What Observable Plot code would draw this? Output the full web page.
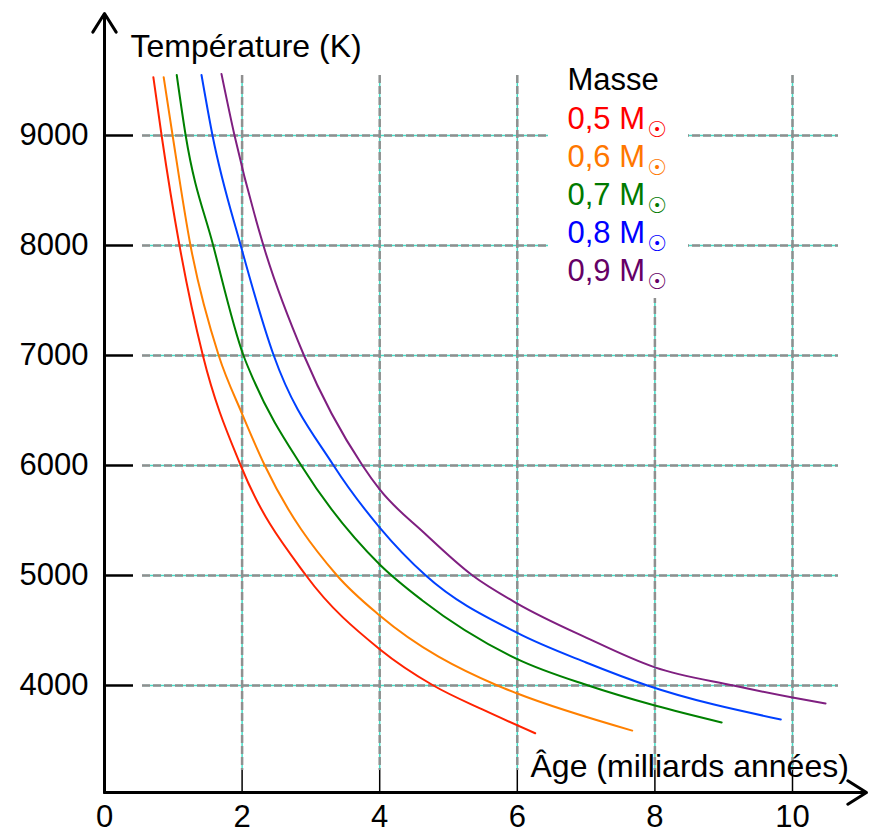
<!DOCTYPE html>
<html><head><meta charset="utf-8">
<script src="https://cdn.jsdelivr.net/npm/d3@7"></script>
<script src="https://cdn.jsdelivr.net/npm/@observablehq/plot@0.6"></script>
<style>body{margin:0;background:#fff}</style>
</head><body><div id="chart"></div>
<script>
// ---- data ----
const masses = ["0,5", "0,6", "0,7", "0,8", "0,9"];
const lineColors = ["#ff2200", "#ff8000", "#008000", "#0040ff", "#7f1f80"];
const textColors = ["#ff0000", "#ff7700", "#007a00", "#0000ff", "#660066"];

const age05 = [0.71, 0.83, 1.09, 1.43, 1.98, 2.93, 4.0, 4.78, 5.5, 6.26];
const temp05 = [9530, 9000, 8000, 7000, 6000, 5000, 4330, 4000, 3780, 3566];
const age06 = [0.86, 0.99, 1.25, 1.66, 2.0, 2.33, 3.38, 4.0, 5.71, 6.0, 7.67];
const temp06 = [9530, 9000, 8000, 7000, 6470, 6000, 5000, 4636, 4000, 3927, 3590];
const age07 = [1.05, 1.18, 1.58, 2.02, 2.17, 2.86, 4.0, 4.62, 6.0, 7.03, 8.0, 8.97];
const temp07 = [9550, 9000, 8000, 7000, 6773, 6000, 5100, 4773, 4240, 4000, 3818, 3664];
const age08 = [1.41, 1.57, 1.98, 2.46, 3.33, 4.0, 4.67, 6.0, 7.0, 7.89, 9.83];
const temp08 = [9550, 9000, 8000, 7000, 6000, 5436, 5000, 4478, 4209, 4000, 3691];
const age09 = [1.70, 1.89, 2.31, 2.90, 3.75, 4.0, 4.64, 5.35, 6.0, 7.0, 8.0, 9.14, 10.0, 10.48];
const temp09 = [9560, 9000, 8000, 7000, 6000, 5782, 5391, 5000, 4745, 4436, 4165, 4000, 3891, 3836];

const xTicks = [0, 2, 4, 6, 8, 10];
const yTicks = [4000, 5000, 6000, 7000, 8000, 9000];
const xTitle = "Âge (milliards années)";
const yTitle = "Température (K)";
const legendTitle = "Masse";
const sunSymbol = "☉";

// ---- build tables ----
const ages = [age05, age06, age07, age08, age09];
const temps = [temp05, temp06, temp07, temp08, temp09];
const series = masses.map((m, i) => ages[i].map((a, j) => ({mass: m, age: a, temp: temps[i][j]})));
const legendRows = masses.map((m, i) => ({label: m + " M", color: textColors[i], idx: i}));

// ---- layout (pixels) ----
const W = 877, H = 834;
const X0 = 104, PXU = 68.8;
const Y9000 = 135, PXK = 0.11;
const px2x = p => (p - X0) / PXU;
const px2y = p => 9000 - (p - Y9000) / PXK;
const font = "'Liberation Sans', Arial, Helvetica, sans-serif";
const FS = 31;
const axisY = px2y(792), topY = px2y(13);
const axisX = 0, rightX = px2x(866);
const gridX1 = px2x(142), gridX2 = px2x(838);
const gridY1 = px2y(75), gridY2 = px2y(770);
const legendX = px2x(567);
const legendBase = [128, 166, 204, 242, 280];

const marks = [];
// grid
const vGrid = xTicks.filter(d => d > 0);
marks.push(Plot.ruleY(yTicks, {y: d => d, x1: gridX1, x2: gridX2, stroke: "#40e0c8", strokeWidth: 1.5}));
marks.push(Plot.ruleX(vGrid, {x: d => d, y1: gridY1, y2: gridY2, stroke: "#40e0c8", strokeWidth: 1.5}));
marks.push(Plot.ruleY(yTicks, {y: d => d, x1: gridX1, x2: gridX2, stroke: "#8f8f8f", strokeWidth: 2.5, strokeDasharray: "8,3"}));
marks.push(Plot.ruleX(vGrid, {x: d => d, y1: gridY1, y2: gridY2, stroke: "#8f8f8f", strokeWidth: 2.5, strokeDasharray: "8,3"}));
// legend background
marks.push(Plot.rect([0], {x1: px2x(548), x2: px2x(688), y1: px2y(298), y2: px2y(60), fill: "white"}));
// curves
series.forEach((s, i) => marks.push(Plot.line(s, {x: "age", y: "temp", stroke: lineColors[i], strokeWidth: 2, curve: "monotone-x"})));
// axes
marks.push(Plot.ruleY(yTicks, {y: d => d, x1: 0, x2: px2x(133), stroke: "black", strokeWidth: 2.5}));
marks.push(Plot.ruleX(xTicks.filter(d => d > 0), {x: d => d, y1: axisY, y2: px2y(770), stroke: "black", strokeWidth: 1.5}));
marks.push(Plot.arrow([0], {x1: axisX, y1: axisY, x2: axisX, y2: topY, stroke: "black", strokeWidth: 3, headLength: 11, headAngle: 64}));
marks.push(Plot.arrow([0], {x1: axisX, y1: axisY, x2: rightX, y2: axisY, stroke: "black", strokeWidth: 3, headLength: 11, headAngle: 64}));
// tick labels
marks.push(Plot.text(yTicks, {x: 0, y: d => d, text: d => String(d), dx: -16, textAnchor: "end", fontSize: FS, fill: "black"}));
marks.push(Plot.text(xTicks, {x: d => d, y: axisY, text: d => String(d), dy: 25, fontSize: FS, fill: "black"}));
// titles
marks.push(Plot.text([yTitle], {x: px2x(130), y: px2y(56), text: d => d, textAnchor: "start", lineAnchor: "bottom", fontSize: 32, fill: "black"}));
marks.push(Plot.text([xTitle], {x: px2x(530), y: px2y(776), text: d => d, textAnchor: "start", lineAnchor: "bottom", fontSize: 32, fill: "black"}));
// legend
marks.push(Plot.text([legendTitle], {x: legendX, y: px2y(89), text: d => d, textAnchor: "start", lineAnchor: "bottom", fontSize: FS, fill: "black"}));
marks.push(Plot.text(legendRows, {x: legendX, y: d => px2y(legendBase[d.idx]), text: "label", fill: d => d.color, textAnchor: "start", lineAnchor: "bottom", fontSize: FS}));
marks.push(Plot.text(legendRows, {x: px2x(656.5), y: d => px2y(legendBase[d.idx] + 1), text: () => sunSymbol, fill: d => d.color, textAnchor: "middle", lineAnchor: "middle", fontSize: 22, fontFamily: "DejaVu Sans"}));

const chart = Plot.plot({
  width: W, height: H,
  x: {domain: [0, 11], range: [X0, X0 + PXU * 11], axis: null},
  y: {domain: [3000, 10000], range: [Y9000 + 6000 * PXK, Y9000 - 1000 * PXK], axis: null},
  color: {type: "identity"},
  style: {fontFamily: font, background: "white", overflow: "visible"},
  marks
});
document.getElementById("chart").appendChild(chart);
</script>
</body></html>
